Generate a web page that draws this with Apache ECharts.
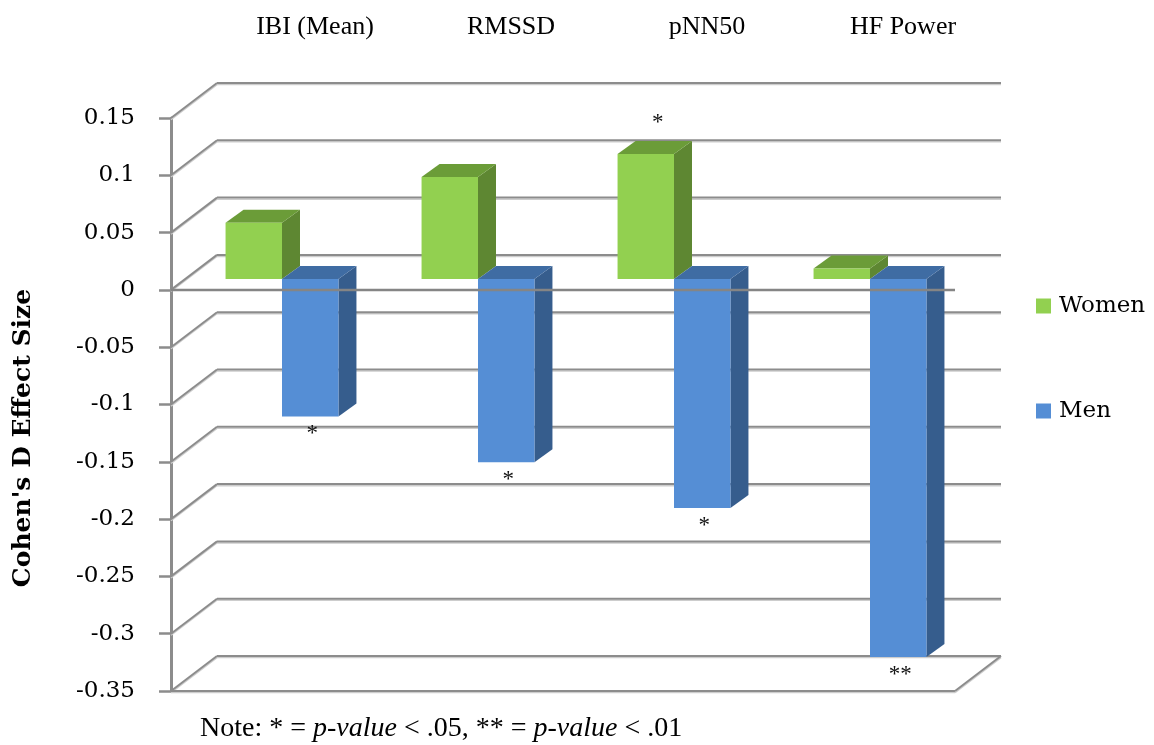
<!DOCTYPE html>
<html>
<head>
<meta charset="utf-8">
<script src="https://cdn.jsdelivr.net/npm/echarts@6/dist/echarts.min.js"></script>
<style>
  html, body { margin: 0; padding: 0; background: #ffffff; }
  #chart { width: 1154px; height: 745px; }
</style>
</head>
<body>
<div id="chart"></div>
<script>
// HRV measures and Cohen's d effect sizes by gender
const categories = ['IBI (Mean)', 'RMSSD', 'pNN50', 'HF Power'];
const women = [0.049, 0.089, 0.109, 0.009];
const men = [-0.120, -0.160, -0.200, -0.330];
const womenSig = ['', '', '*', ''];
const menSig = ['*', '*', '*', '**'];
const yTicks = [-0.35, -0.3, -0.25, -0.2, -0.15, -0.1, -0.05, 0, 0.05, 0.1, 0.15];

// oblique 3-D look: wall depth, bar front-face offset and bar depth (pixels)
const WALL_DX = 46, WALL_DY = -35;
const FRONT_DX = 13, FRONT_DY = -11;
const BAR_DX = 18, BAR_DY = -13;
const BAR_RATIO = 0.288;

const GREEN = { front: '#92D050', top: '#6B9C38', side: '#5E8732' };
const BLUE = { front: '#558ED5', top: '#3F6CA3', side: '#365D8D' };

const SERIF = '"Liberation Serif", "Times New Roman", serif';
const WIDE_SERIF = '"DejaVu Serif", serif';

function gridLine(x1, y1, x2, y2) {
  return [
    { type: 'line', shape: { x1: x1, y1: y1 + 1.6, x2: x2, y2: y2 + 1.6 },
      style: { stroke: '#cdcdcd', lineWidth: 1.4 } },
    { type: 'line', shape: { x1: x1, y1: y1, x2: x2, y2: y2 },
      style: { stroke: '#8c8c8c', lineWidth: 2 } }
  ];
}

// back wall, side wall and floor lines, one set per tick value
function renderWalls(params, api) {
  const cs = params.coordSys;
  const v = api.value(1);
  const y = api.coord([0, v])[1];
  const xl = cs.x, xr = cs.x + cs.width;
  let children = [];
  children = children.concat(gridLine(xl, y, xl + WALL_DX, y + WALL_DY));
  children = children.concat(gridLine(xl + WALL_DX, y + WALL_DY, xr + WALL_DX, y + WALL_DY));
  if (v === yTicks[0]) {
    children = children.concat(gridLine(xl, y, xr, y));
    children = children.concat(gridLine(xr, y, xr + WALL_DX, y + WALL_DY));
  }
  return { type: 'group', children: children };
}

// front zero line, drawn over the bars
function renderZero(params, api) {
  const cs = params.coordSys;
  const y = api.coord([0, 0])[1];
  return {
    type: 'line',
    shape: { x1: cs.x, y1: y, x2: cs.x + cs.width, y2: y },
    style: { stroke: '#858585', lineWidth: 2.5 }
  };
}

function makeBarRenderer(side, colors, marks) {
  return function (params, api) {
    const i = api.value(0);
    const v = api.value(1);
    const base = api.coord([i, 0]);
    const tip = api.coord([i, v]);
    const bw = api.size([1, 0])[0];
    const w = bw * BAR_RATIO;
    const xc = base[0] + FRONT_DX;
    const x0 = side < 0 ? xc - w : xc;
    const x1 = x0 + w;
    const y0 = base[1] + FRONT_DY;
    const yv = tip[1] + FRONT_DY;
    const yTop = Math.min(y0, yv);
    const yBot = Math.max(y0, yv);
    const children = [
      { type: 'polygon',
        shape: { points: [[x1, yTop], [x1, yBot], [x1 + BAR_DX, yBot + BAR_DY], [x1 + BAR_DX, yTop + BAR_DY]] },
        style: { fill: colors.side } },
      { type: 'polygon',
        shape: { points: [[x0, yTop], [x1, yTop], [x1 + BAR_DX, yTop + BAR_DY], [x0 + BAR_DX, yTop + BAR_DY]] },
        style: { fill: colors.top } },
      { type: 'rect',
        shape: { x: x0, y: yTop, width: w, height: yBot - yTop },
        style: { fill: colors.front } }
    ];
    const mark = marks[params.dataIndex];
    if (mark) {
      const below = v < 0;
      children.push({
        type: 'text',
        style: {
          text: mark,
          x: below ? (x0 + x1) / 2 + 2 : (x0 + x1) / 2 + BAR_DX / 2 + 3,
          y: below ? yBot + 18 : yTop + BAR_DY - 18,
          align: 'center', verticalAlign: 'middle',
          fontFamily: SERIF, fontSize: 23, fill: '#111'
        }
      });
    }
    return { type: 'group', children: children };
  };
}

const chart = echarts.init(document.getElementById('chart'), null, { renderer: 'canvas' });

const option = {
  animation: false,
  backgroundColor: '#ffffff',
  color: [GREEN.front, BLUE.front],
  grid: { left: 171, right: 199, top: 118, bottom: 54 },
  xAxis: {
    type: 'category',
    data: categories,
    position: 'top',
    axisLine: { show: false },
    axisTick: { show: false },
    axisLabel: {
      margin: 78,
      padding: [0, 0, 0, WALL_DX * 2],
      fontFamily: SERIF, fontSize: 26, color: '#000'
    },
    splitLine: { show: false }
  },
  yAxis: {
    type: 'value',
    min: yTicks[0],
    max: yTicks[yTicks.length - 1],
    interval: 0.05,
    axisLine: { show: true, lineStyle: { color: '#8c8c8c', width: 3 } },
    axisTick: { show: true, length: 12, lineStyle: { color: '#8c8c8c', width: 2.5 } },
    axisLabel: { margin: 36, fontFamily: WIDE_SERIF, fontSize: 23, color: '#000' },
    splitLine: { show: false }
  },
  legend: {
    data: ['Women', 'Men'],
    orient: 'vertical',
    left: 1031,
    top: 289,
    icon: 'rect',
    itemWidth: 15,
    itemHeight: 15,
    itemGap: 81,
    textStyle: { fontFamily: WIDE_SERIF, fontSize: 23, color: '#000', lineHeight: 24, padding: [0, 0, 0, 3] }
  },
  graphic: [
    {
      type: 'text',
      x: 23, y: 438,
      rotation: Math.PI / 2,
      style: {
        text: "Cohen's D Effect Size",
        align: 'center', verticalAlign: 'middle',
        fontFamily: WIDE_SERIF, fontWeight: 'bold', fontSize: 25, fill: '#000'
      }
    },
    {
      type: 'text',
      left: 200, top: 715,
      style: {
        text: '{n|Note: * = }{i|p-value}{n| < .05, ** = }{i|p-value}{n| < .01}',
        rich: {
          n: { fontFamily: SERIF, fontSize: 28, fill: '#000' },
          i: { fontFamily: SERIF, fontSize: 28, fontStyle: 'italic', fill: '#000' }
        }
      }
    }
  ],
  series: [
    {
      type: 'custom', name: 'walls', silent: true, z: 1,
      renderItem: renderWalls,
      encode: { x: 0, y: 1 },
      data: yTicks.map(function (v) { return [0, v]; })
    },
    {
      type: 'custom', name: 'Women', z: 3,
      itemStyle: { color: GREEN.front },
      renderItem: makeBarRenderer(-1, GREEN, womenSig),
      encode: { x: 0, y: 1 },
      data: women.map(function (v, i) { return [i, v]; })
    },
    {
      type: 'custom', name: 'Men', z: 4,
      itemStyle: { color: BLUE.front },
      renderItem: makeBarRenderer(1, BLUE, menSig),
      encode: { x: 0, y: 1 },
      data: men.map(function (v, i) { return [i, v]; })
    },
    {
      type: 'custom', name: 'zero', silent: true, z: 6,
      renderItem: renderZero,
      encode: { x: 0, y: 1 },
      data: [[0, 0]]
    }
  ]
};

chart.setOption(option);
</script>
</body>
</html>
